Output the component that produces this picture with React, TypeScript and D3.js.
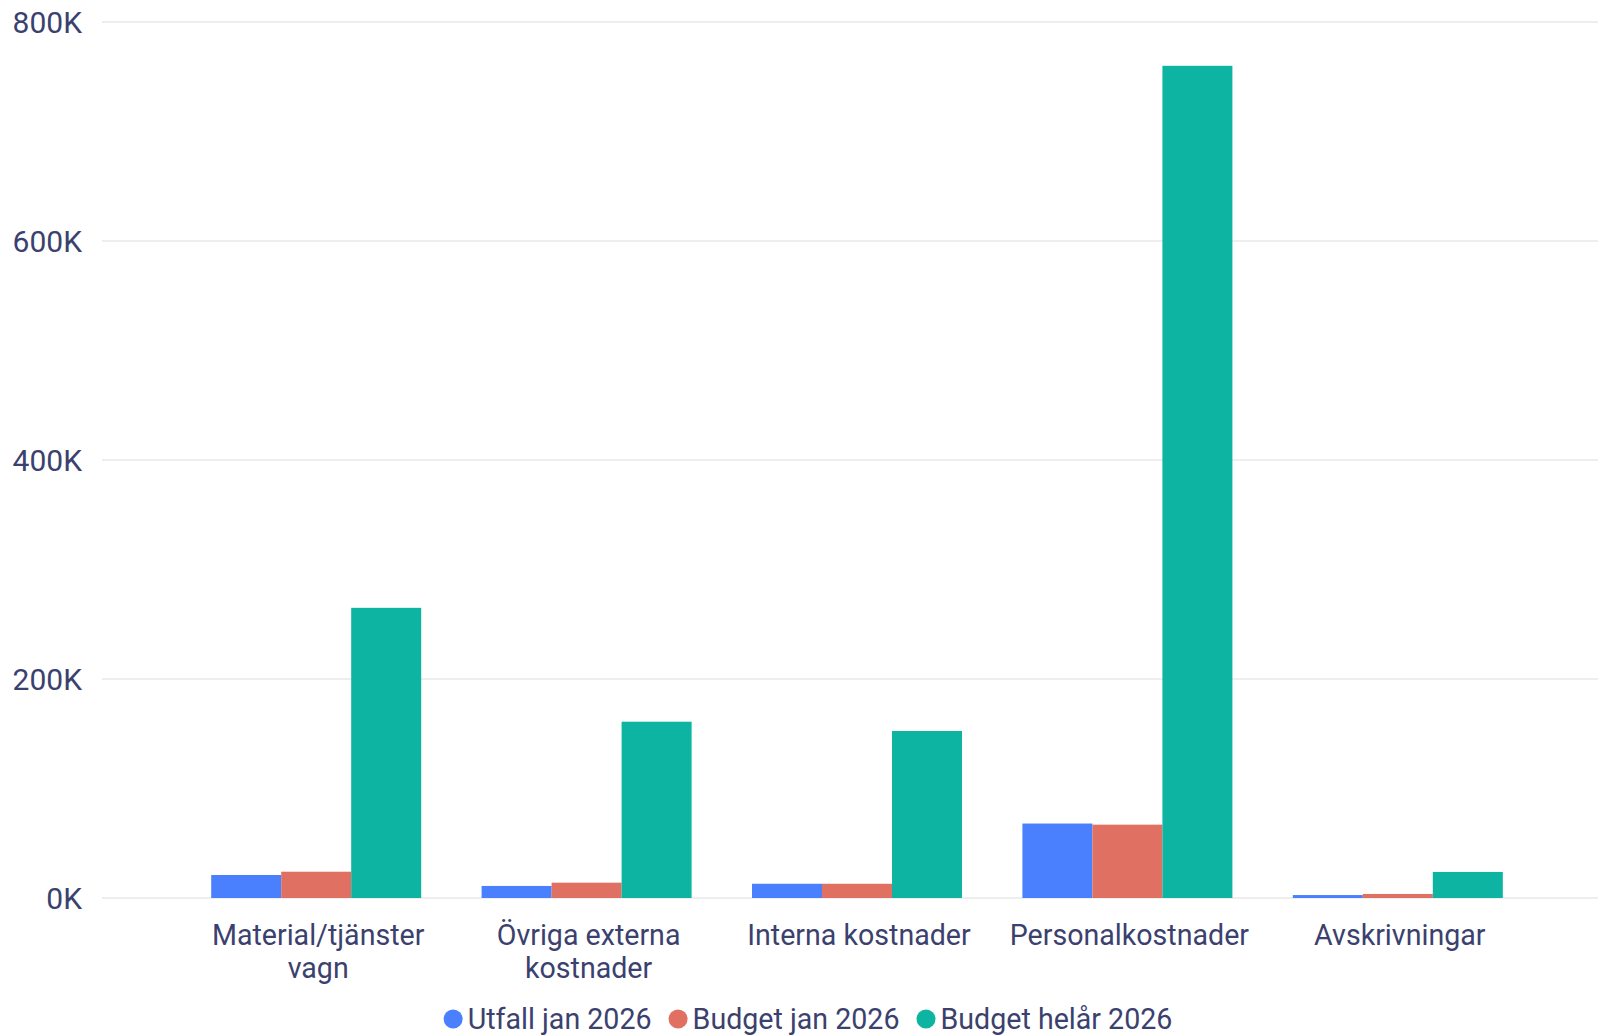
import React, { useEffect, useRef } from "react";
import * as d3 from "d3";

const categories = [
  "Material/tjänster vagn",
  "Övriga externa kostnader",
  "Interna kostnader",
  "Personalkostnader",
  "Avskrivningar",
];
const seriesNames = ["Utfall jan 2026", "Budget jan 2026", "Budget helår 2026"];
const seriesColors = ["#4a7ffe", "#e07062", "#0db4a1"];
const utfallJan = [21000, 11000, 13000, 68000, 2700];
const budgetJan = [24000, 14000, 13000, 67000, 3700];
const budgetHelar = [265000, 161000, 152500, 760000, 23800];
const yTicks = [0, 200000, 400000, 600000, 800000];

const W = 1598;
const H = 1036;
const FONT = "Roboto, 'Noto Sans', sans-serif";
const TEXT = "#3b416e";

export default function App() {
  const ref = useRef<SVGSVGElement>(null);
  useEffect(() => {
    const svg = d3.select(ref.current);
    svg.selectAll("*").remove();
    const values = [utfallJan, budgetJan, budgetHelar];

    const y = d3.scaleLinear().domain([0, 800000]).range([898, 22]);
    const x0 = d3
      .scaleBand<string>()
      .domain(categories)
      .range([181, 1533])
      .paddingInner(0.2234)
      .paddingOuter(0.1117);
    const x1 = d3
      .scaleBand<string>()
      .domain(seriesNames)
      .range([0, x0.bandwidth()]);

    // gridlines
    svg
      .append("g")
      .selectAll("line")
      .data(yTicks)
      .join("line")
      .attr("x1", 102)
      .attr("x2", W)
      .attr("y1", (d) => y(d))
      .attr("y2", (d) => y(d))
      .attr("stroke", "#eeeeee")
      .attr("stroke-width", 2);

    // y labels
    svg
      .append("g")
      .selectAll("text")
      .data(yTicks)
      .join("text")
      .attr("x", 82)
      .attr("y", (d) => y(d))
      .attr("dy", "0.36em")
      .attr("text-anchor", "end")
      .attr("font-family", FONT)
      .attr("font-size", 30)
      .attr("fill", TEXT)
      .text((d) => `${d / 1000}K`);

    // bars
    seriesNames.forEach((s, si) => {
      svg
        .append("g")
        .selectAll("rect")
        .data(categories)
        .join("rect")
        .attr("x", (c) => (x0(c) as number) + (x1(s) as number))
        .attr("width", x1.bandwidth())
        .attr("y", (c, i) => y(values[si][i]))
        .attr("height", (c, i) => y(0) - y(values[si][i]))
        .attr("fill", seriesColors[si]);
    });

    // x labels with wrapping
    const xl = svg.append("g");
    categories.forEach((c) => {
      const cx = (x0(c) as number) + x0.bandwidth() / 2 + 2;
      const t = xl
        .append("text")
        .attr("x", cx)
        .attr("y", 945)
        .attr("text-anchor", "middle")
        .attr("font-family", FONT)
        .attr("font-size", 28.6)
        .attr("fill", TEXT);
      const words = c.split(" ");
      let line: string[] = [];
      let lineNo = 0;
      let ts = t.append("tspan").attr("x", cx).attr("y", 945);
      words.forEach((w) => {
        line.push(w);
        ts.text(line.join(" "));
        if ((ts.node() as SVGTSpanElement).getComputedTextLength() > x0.step() * 0.98 && line.length > 1) {
          line.pop();
          ts.text(line.join(" "));
          line = [w];
          lineNo++;
          ts = t.append("tspan").attr("x", cx).attr("y", 945 + lineNo * 33).text(w);
        }
      });
    });

    // legend
    const lg = svg.append("g");
    const items = seriesNames.map((s, i) => {
      const g = lg.append("g");
      g.append("circle").attr("cx", 9.5).attr("cy", 0).attr("r", 9.5).attr("fill", seriesColors[i]);
      const tx = g
        .append("text")
        .attr("x", 24)
        .attr("y", 0)
        .attr("dy", "0.36em")
        .attr("font-family", FONT)
        .attr("font-size", 28.6)
        .attr("fill", TEXT)
        .text(s);
      const w = 24 + (tx.node() as SVGTextElement).getComputedTextLength();
      return { g, w };
    });
    const gap = 17;
    const total = d3.sum(items, (d) => d.w) + gap * (items.length - 1);
    let cur = 808 - total / 2;
    items.forEach((it) => {
      it.g.attr("transform", `translate(${cur},1019)`);
      cur += it.w + gap;
    });
  }, []);

  return (
    <svg
      ref={ref}
      width={W}
      height={H}
      style={{ position: "absolute", left: 0, top: 0, display: "block", background: "#fff" }}
    />
  );
}
